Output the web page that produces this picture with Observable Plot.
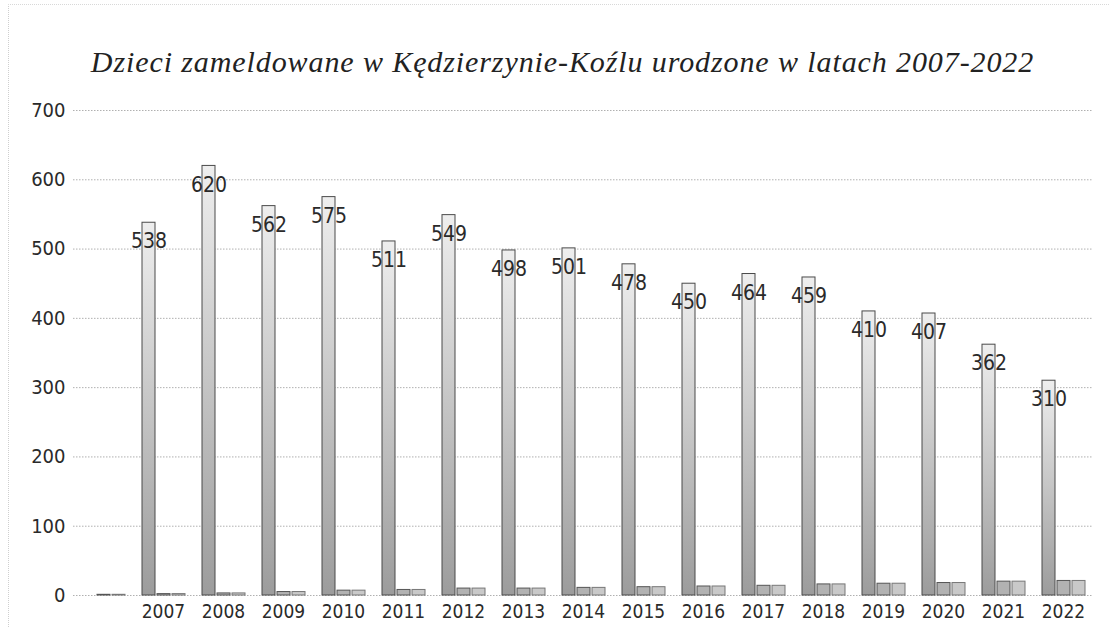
<!DOCTYPE html>
<html>
<head>
<meta charset="utf-8">
<script src="https://cdn.jsdelivr.net/npm/d3@7"></script>
<script src="https://cdn.jsdelivr.net/npm/@observablehq/plot@0.6"></script>
<style>
  html, body { margin: 0; padding: 0; background: #fff; }
  #wrap { position: relative; width: 1109px; height: 628px; overflow: hidden; }
  #frame { position: absolute; left: 8px; top: 4px; width: 1200px; height: 700px;
           border-left: 1px dotted #cfcfcf; border-top: 1px dotted #d8d8d8; pointer-events: none; }
  #title { height: 92px; box-sizing: border-box; padding-top: 47px; padding-left: 16px;
           text-align: center; font-family: "Liberation Serif", "DejaVu Serif", serif;
           font-style: italic; font-size: 30px; line-height: 30px; color: #222; letter-spacing: 0.9px;
           white-space: nowrap; }
  #chart svg { display: block; }
</style>
</head>
<body>
<svg width="0" height="0" style="position:absolute">
  <defs>
    <linearGradient id="bigGrad" x1="0" y1="0" x2="0" y2="1">
      <stop offset="0%" stop-color="#eeeeee"/>
      <stop offset="100%" stop-color="#9c9c9c"/>
    </linearGradient>
  </defs>
</svg>
<div id="wrap">
  <div id="frame"></div>
  <div id="title">Dzieci zameldowane w Kędzierzynie-Koźlu urodzone w latach 2007-2022</div>
  <div id="chart"></div>
</div>
<script>
// Categories (first group has no label and no main bar)
const years = ["", "2007", "2008", "2009", "2010", "2011", "2012", "2013", "2014",
               "2015", "2016", "2017", "2018", "2019", "2020", "2021", "2022"];
// Main series: registered children born in each year
const births = [null, 538, 620, 562, 575, 511, 549, 498, 501, 478, 450, 464, 459, 410, 407, 362, 310];
// Two small auxiliary series visible near the baseline
const smallA = [1, 2, 3, 5, 7, 8, 10, 10, 11, 12, 13, 14, 16, 17, 18, 20, 21];
const smallB = [1, 2, 3, 5, 7, 8, 10, 10, 11, 12, 13, 14, 16, 17, 18, 20, 21];
const seriesNames = ["births", "a", "b"];
const yTicks = [0, 100, 200, 300, 400, 500, 600, 700];

const data = [];
years.forEach((yr, i) => {
  if (births[i] != null) data.push({year: yr, series: "births", value: births[i]});
  data.push({year: yr, series: "a", value: smallA[i]});
  data.push({year: yr, series: "b", value: smallB[i]});
});
const bigData = data.filter(d => d.series === "births");
const smallData = data.filter(d => d.series !== "births");

const chart = Plot.plot({
  width: 1109,
  height: 536,
  marginTop: 18,
  marginBottom: 33,
  marginLeft: 67,
  marginRight: 11,
  style: {
    fontFamily: "'Liberation Sans Narrow', 'DejaVu Sans Condensed', 'Open Sans', sans-serif",
    fontSize: "19px",
    color: "#2a2a2a",
    background: "transparent",
    overflow: "visible"
  },
  fx: {domain: years, padding: 0, label: null, tickSize: 0, tickPadding: 9},
  x: {domain: seriesNames, paddingInner: 0.15, paddingOuter: 0.55, axis: null},
  y: {domain: [0, 700], ticks: yTicks, label: null, tickSize: 0, tickPadding: 8},
  marks: [
    Plot.ruleY(yTicks, {stroke: "#b0b0b0", strokeWidth: 1, strokeDasharray: "1.5,1.5"}),
    Plot.barY(bigData, {fx: "year", x: "series", y: "value",
      fill: "url(#bigGrad)", stroke: "#4a4a4a", strokeWidth: 1}),
    Plot.barY(smallData, {fx: "year", x: "series", y: "value",
      fill: d => d.series === "a" ? "#b2b2b2" : "#c9c9c9",
      stroke: d => d.series === "a" ? "#555" : "#777", strokeWidth: 1}),
    Plot.text(bigData, {fx: "year", x: "series", y: "value", text: d => String(d.value),
      dy: 19, fontSize: 21, fill: "#2a2a2a", lineAnchor: "middle"})
  ]
});
chart.querySelectorAll('[aria-label="y-axis tick label"] text, [aria-label="y-axis tick label"]').forEach(el => el.style.fontSize = "20px");
document.getElementById("chart").appendChild(chart);
</script>
</body>
</html>
